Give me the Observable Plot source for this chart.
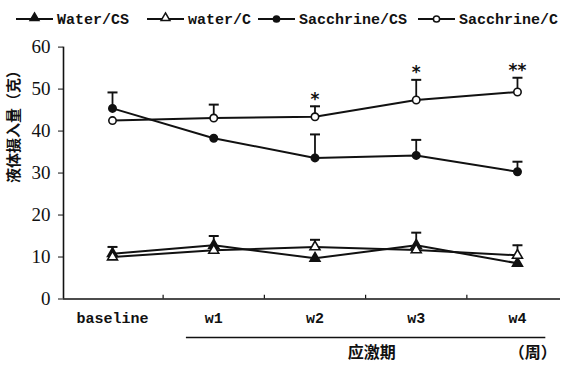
<!DOCTYPE html>
<html>
<head>
<meta charset="utf-8">
<script src="https://cdn.jsdelivr.net/npm/d3@7"></script>
<script src="https://cdn.jsdelivr.net/npm/@observablehq/plot@0.6"></script>
<style>
  body { margin: 0; background: #fff; }
  #chart { width: 565px; height: 365px; overflow: hidden; background: #fff; }
  #legend, #plot { display: block; height: auto; line-height: 0; }
  svg { display: block; }
</style>
</head>
<body>
<div id="chart"><div id="legend"></div><div id="plot"></div></div>
<script>
// ---- data ----
const categories = ["baseline", "w1", "w2", "w3", "w4"];
const seriesNames = ["Water/CS", "water/C", "Sacchrine/CS", "Sacchrine/C"];
const waterCS = [10.8, 12.8, 9.7, 12.8, 8.5];
const waterC = [10.0, 11.6, 12.4, 11.7, 10.4];
const saccCS = [45.4, 38.3, 33.6, 34.2, 30.3];
const saccC = [42.5, 43.1, 43.4, 47.4, 49.3];
// upper error bars (null = none drawn)
const waterCSErr = [1.6, 2.2, null, 3.0, null];
const waterCErr = [null, null, 1.7, null, 2.4];
const saccCSErr = [3.8, null, 5.6, 3.7, 2.4];
const saccCErr = [null, 3.2, 2.5, 4.8, 3.4];
const stars = ["", "", "*", "*", "**"];
const yTicks = [0, 10, 20, 30, 40, 50, 60];
const yLabel = "液体摄入量（克）";
const periodLabel = "应激期";
const unitLabel = "（周）";

// ---- layout / style ----
const ink = "#111";
const seriesStyle = [
  {symbol: "triangle", filled: true},
  {symbol: "triangle", filled: false},
  {symbol: "circle", filled: true},
  {symbol: "circle", filled: false}
];
const seriesValues = [waterCS, waterC, saccCS, saccC];
const seriesErrs = [waterCSErr, waterCErr, saccCSErr, saccCErr];

const rows = [];
seriesNames.forEach((name, s) => {
  categories.forEach((c, i) => {
    const v = seriesValues[s][i];
    const e = seriesErrs[s][i];
    rows.push({series: name, s, i, v, top: e == null ? null : v + e});
  });
});
const errRows = rows.filter(d => d.top != null);
const starRows = categories.map((c, i) => ({i, label: stars[i], top: saccC[i] + (saccCErr[i] || 0)})).filter(d => d.label);

const capSymbol = {draw(ctx) { ctx.moveTo(-5, 0); ctx.lineTo(5, 0); }};
const symbolR = {triangle: 3.7, circle: 3.7};

const marks = [
  Plot.ruleY([0], {stroke: ink, strokeWidth: 1.6}),
  Plot.ruleX([-0.484], {stroke: ink, strokeWidth: 1.6}),
  Plot.ruleX([0.5, 1.5, 2.5, 3.5], {y1: 0, y2: 0.9, stroke: ink, strokeWidth: 1.2}),
  Plot.axisY({ticks: yTicks, tickSize: 5, tickPadding: 8, label: null,
    fontFamily: "Liberation Serif", fontSize: 19, stroke: ink, fill: ink}),
  Plot.axisX({ticks: categories.map((c, i) => i), tickFormat: i => categories[i], tickSize: 0,
    tickPadding: 13, label: null, fontFamily: "Liberation Mono", fontWeight: "bold", fontSize: 15, fill: ink}),
  // error bars
  Plot.ruleX(errRows, {x: "i", y1: "v", y2: "top", stroke: ink, strokeWidth: 1.8}),
  Plot.dot(errRows, {x: "i", y: "top", symbol: capSymbol, stroke: ink, strokeWidth: 2, fill: "none", r: 5}),
  // lines
  ...seriesNames.map((name, s) => Plot.line(rows.filter(d => d.s === s), {x: "i", y: "v", stroke: ink, strokeWidth: 2})),
  // markers
  ...seriesNames.map((name, s) => Plot.dot(rows.filter(d => d.s === s), {
    x: "i", y: "v", symbol: seriesStyle[s].symbol, r: symbolR[seriesStyle[s].symbol],
    fill: seriesStyle[s].filled ? ink : "white", stroke: ink, strokeWidth: 1.6
  })),
  // significance stars
  Plot.text(starRows, {x: "i", y: "top", text: "label", dy: -7, fontFamily: "DejaVu Sans", fontWeight: "bold", fontSize: 17, fill: ink}),
  // y label
  Plot.text([yLabel], {frameAnchor: "left", rotate: -90, dx: -49, dy: 10, fontFamily: "Noto Sans CJK SC",
    fontWeight: "bold", fontSize: 15, fill: ink, letterSpacing: "2.5px"}),
  // stress period underline and labels
  Plot.ruleY([0], {x1: 0.73, x2: 4.28, dy: 38.5, stroke: ink, strokeWidth: 1.6}),
  Plot.text([periodLabel], {x: 2.56, y: 0, dy: 54, fontFamily: "Noto Sans CJK SC", fontWeight: "bold", fontSize: 16, fill: ink}),
  Plot.text([unitLabel], {x: 4.15, y: 0, dy: 54, fontFamily: "Noto Sans CJK SC", fontWeight: "bold", fontSize: 16, fill: ink})
];

const plot = Plot.plot({
  width: 565,
  height: 335,
  marginTop: 16.6,
  marginBottom: 66.5,
  marginLeft: 63,
  marginRight: 5,
  x: {type: "linear", domain: [-0.484, 4.425], axis: null},
  y: {domain: [0, 60], axis: null},
  style: {background: "white", color: ink, overflow: "visible", display: "block"},
  marks
});
document.getElementById("plot").appendChild(plot);

// ---- legend ----
const legendStarts = [16, 147, 258, 418];
const lg = d3.create("svg").attr("width", 565).attr("height", 30).style("display", "block");
seriesNames.forEach((name, s) => {
  const x0 = legendStarts[s];
  const g = lg.append("g");
  g.append("line").attr("x1", x0).attr("x2", x0 + 37).attr("y1", 19).attr("y2", 19)
    .attr("stroke", ink).attr("stroke-width", 2);
  const sym = seriesStyle[s].symbol === "triangle" ? d3.symbolTriangle : d3.symbolCircle;
  g.append("path").attr("d", d3.symbol(sym, seriesStyle[s].symbol === "triangle" ? 34 : 30)())
    .attr("transform", `translate(${x0 + 18.5},${seriesStyle[s].symbol === "triangle" ? 18 : 19})`)
    .attr("fill", seriesStyle[s].filled ? ink : "white").attr("stroke", ink).attr("stroke-width", 1.5);
  g.append("text").attr("x", x0 + 41).attr("y", 19).attr("dy", "0.35em")
    .attr("font-family", "Liberation Mono").attr("font-weight", "bold").attr("font-size", 15)
    .attr("fill", ink).text(name);
});
document.getElementById("legend").appendChild(lg.node());
</script>
</body>
</html>
